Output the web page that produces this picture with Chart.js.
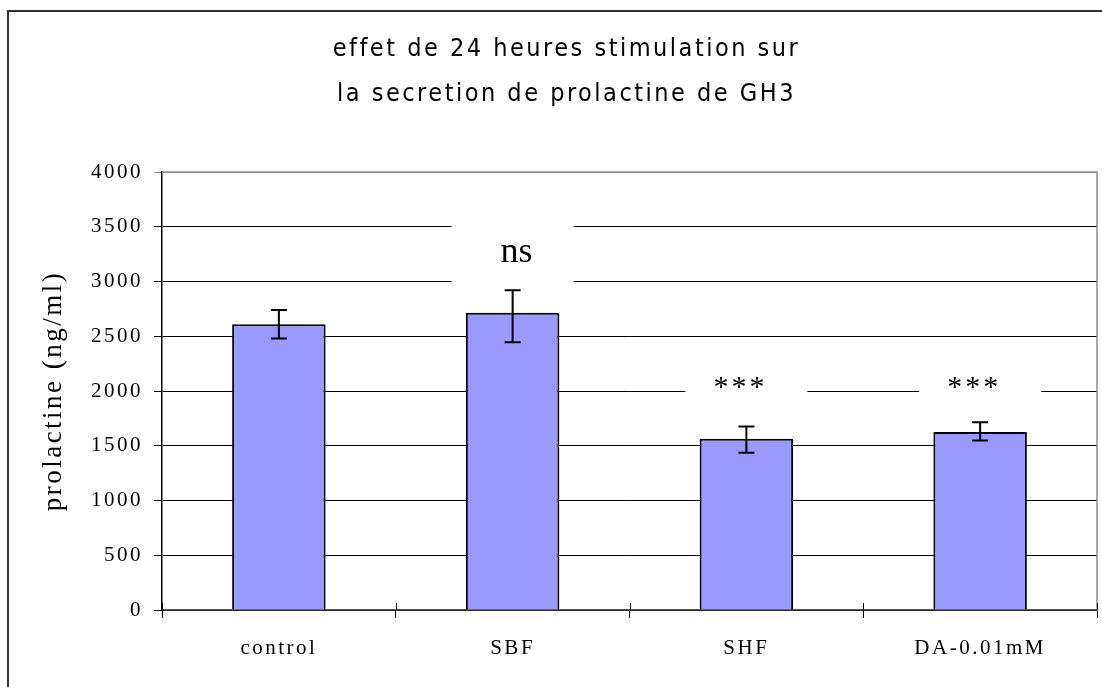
<!DOCTYPE html>
<html>
<head>
<meta charset="utf-8">
<script src="https://cdn.jsdelivr.net/npm/chart.js@4/dist/chart.umd.min.js"></script>
<style>
  html, body { margin: 0; padding: 0; background: #fff; }
  #wrap { width: 1102px; height: 687px; position: relative; }
</style>
</head>
<body>
<div id="wrap"><canvas id="c" width="1102" height="687"></canvas></div>
<script>
const categories = ['control', 'SBF', 'SHF', 'DA-0.01mM'];
const values = [2610, 2715, 1565, 1625];
const errUpper = [2740, 2920, 1675, 1715];
const errLower = [2480, 2445, 1437, 1547];
const annotations = ['', 'ns', '***', '***'];
const annotationValues = [null, 3260, 2080, 2080];
const yMin = 0, yMax = 4000, yStep = 500;
const titleLines = ['effet de 24 heures stimulation sur', 'la secretion de prolactine de GH3'];
const yTitle = 'prolactine (ng/ml)';

const SERIF = "'Liberation Serif', 'Times New Roman', serif";
const NARROW = "'Liberation Sans Narrow', 'DejaVu Sans Condensed', sans-serif";
const SPACING = '2.5px';

const spacingPlugin = {
  id: 'spacing',
  beforeLayout(chart) { chart.ctx.letterSpacing = SPACING; },
  beforeDraw(chart) {
    const ctx = chart.ctx;
    ctx.letterSpacing = SPACING;
    ctx.save();
    ctx.fillStyle = '#fff';
    ctx.fillRect(0, 0, chart.width, chart.height);
    ctx.restore();
  }
};

const decorPlugin = {
  id: 'decor',
  beforeDatasetsDraw(chart) {
    const ctx = chart.ctx, a = chart.chartArea;
    ctx.save();
    ctx.strokeStyle = '#8c8c8c';
    ctx.lineWidth = 1.5;
    ctx.beginPath();
    ctx.moveTo(a.left, a.top);
    ctx.lineTo(a.right, a.top);
    ctx.lineTo(a.right, a.bottom);
    ctx.stroke();
    ctx.strokeStyle = '#000';
    ctx.lineWidth = 1;
    const n = categories.length;
    for (let i = 0; i <= n; i++) {
      const x = Math.round(a.left + i * (a.right - a.left) / n) + 0.5;
      ctx.beginPath();
      ctx.moveTo(x, a.bottom - 7);
      ctx.lineTo(x, a.bottom);
      ctx.stroke();
    }
    ctx.restore();
  },
  afterDatasetsDraw(chart) {
    const ctx = chart.ctx;
    const xs = chart.scales.x, ys = chart.scales.y;
    ctx.save();
    ctx.strokeStyle = '#000';
    ctx.lineWidth = 2;
    for (let i = 0; i < values.length; i++) {
      const x = xs.getPixelForValue(i);
      const yt = ys.getPixelForValue(errUpper[i]);
      const yb = ys.getPixelForValue(errLower[i]);
      ctx.beginPath();
      ctx.moveTo(x, yt); ctx.lineTo(x, yb);
      ctx.moveTo(x - 8, yt); ctx.lineTo(x + 8, yt);
      ctx.moveTo(x - 8, yb); ctx.lineTo(x + 8, yb);
      ctx.stroke();
    }
    for (let i = 0; i < annotations.length; i++) {
      if (!annotations[i]) continue;
      const x = xs.getPixelForValue(i);
      const y = ys.getPixelForValue(annotationValues[i]);
      ctx.fillStyle = '#fff';
      ctx.fillRect(x - 61, y - 32, 122, 64);
      ctx.fillStyle = '#000';
      ctx.textAlign = 'center';
      ctx.textBaseline = 'middle';
      if (annotations[i] === 'ns') {
        ctx.letterSpacing = '0px';
        ctx.font = "36px " + SERIF;
        ctx.fillText(annotations[i], x + 4, y);
      } else {
        ctx.letterSpacing = '3px';
        ctx.font = "30px " + SERIF;
        ctx.fillText(annotations[i], x - 6, y + 6);
      }
    }
    ctx.restore();
    ctx.save();
    ctx.strokeStyle = '#333';
    ctx.lineWidth = 2;
    ctx.strokeRect(8, 11, 1300, 900);
    ctx.restore();
  }
};

new Chart(document.getElementById('c'), {
  type: 'bar',
  data: {
    labels: categories,
    datasets: [{
      data: values,
      backgroundColor: '#9999ff',
      borderColor: '#000',
      borderWidth: 2,
      barPercentage: 0.4,
      categoryPercentage: 1.0
    }]
  },
  options: {
    responsive: false,
    animation: false,
    devicePixelRatio: 1,
    layout: { padding: { left: 36, right: 5, top: 0, bottom: 28 } },
    plugins: {
      legend: { display: false },
      tooltip: { enabled: false },
      title: {
        display: true,
        text: titleLines,
        color: '#000',
        font: { family: NARROW, size: 25, weight: 'normal', lineHeight: '45px' },
        padding: { top: 27, bottom: 55 }
      }
    },
    scales: {
      x: {
        grid: { offset: true, drawOnChartArea: false, drawTicks: true, tickLength: 8, color: '#000' },
        border: { color: '#555', width: 1.5 },
        ticks: { color: '#000', font: { family: SERIF, size: 21 }, padding: 18, maxRotation: 0 },
        afterFit(scale) { scale.height = 49; }
      },
      y: {
        min: yMin, max: yMax,
        grid: {
          color: (c) => (c.tick && c.tick.value === yMax) ? '#8c8c8c' : '#000',
          lineWidth: 1, tickLength: 8
        },
        border: { color: '#000', width: 1.5 },
        ticks: {
          stepSize: yStep, color: '#000', font: { family: SERIF, size: 21 }, padding: 11,
          callback: (v) => String(v)
        },
        title: {
          display: true, text: yTitle, color: '#000',
          font: { family: SERIF, size: 27 }, padding: { top: 2 }
        },
        afterFit(scale) { scale.width = 126; }
      }
    }
  },
  plugins: [spacingPlugin, decorPlugin]
});
</script>
</body>
</html>
